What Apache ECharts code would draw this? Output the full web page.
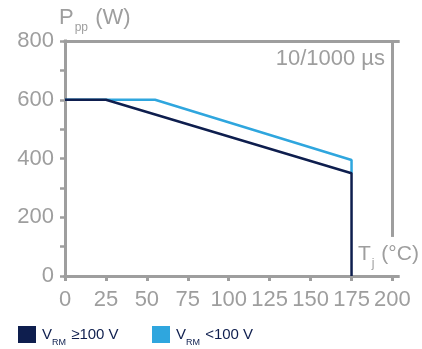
<!DOCTYPE html>
<html><head><meta charset="utf-8">
<script src="https://cdn.jsdelivr.net/npm/echarts@6/dist/echarts.min.js"></script>
<style>html,body{margin:0;padding:0;background:#fff}#c{width:422px;height:349px}</style>
</head><body><div id="c"></div>
<script>
// ---- data ----
const xTickValues = [0, 25, 50, 75, 100, 125, 150, 175, 200];
const yTickValues = [0, 100, 200, 300, 400, 500, 600, 700, 800];
const yLabelValues = [0, 200, 400, 600, 800];
const seriesNames = ['VRM ≥100 V', 'VRM <100 V'];
const tempHigh = [0, 25, 175, 175];
const powerHigh = [600, 600, 350, 0];
const tempLow = [0, 55, 175, 175];
const powerLow = [600, 600, 395, 350];
const frameRight = [[200, 800], [200, 133]];

// ---- style ----
const GREY = '#9e9e9e';
const NAVY = '#0e1e4e';
const BLUE = '#2fa6de';
const FONT = "'Liberation Sans', Arial, sans-serif";

const chart = echarts.init(document.getElementById('c'), null, {renderer: 'canvas'});

const richTitle = {
  a: {fontSize: 22, color: GREY, fontFamily: FONT, fontWeight: 'normal', lineHeight: 26},
  b: {fontSize: 12, color: GREY, fontFamily: FONT, fontWeight: 'normal', lineHeight: 14, verticalAlign: 'bottom', padding: [0, 1, -3, 1]}
};
const richTitleSmall = {
  a: {fontSize: 21, color: GREY, fontFamily: FONT, fontWeight: 'normal', lineHeight: 26},
  b: {fontSize: 12, color: GREY, fontFamily: FONT, fontWeight: 'normal', lineHeight: 14, verticalAlign: 'bottom', padding: [0, 1, -3, 1]}
};
const richLegend = {
  v: {fontSize: 15, color: NAVY, fontFamily: FONT, lineHeight: 18},
  s: {fontSize: 9, color: NAVY, fontFamily: FONT, lineHeight: 10, verticalAlign: 'bottom', padding: [0, 1, -4, 0]}
};
function legendFmt(name) {
  const rest = name.slice(3);
  return '{v|V}{s|RM}{v|' + rest + '}';
}

const toPairs = (xs, ys) => xs.map((x, i) => [x, ys[i]]);

chart.setOption({
  animation: false,
  grid: {left: 65, right: 23.8, top: 41, bottom: 73},
  title: [
    {text: '{a|P}{b|pp}{a| (W)}', left: 59, top: 5, padding: 0, textStyle: {fontWeight: 'normal', rich: richTitle}},
    {text: '10/1000 µs', right: 37, top: 46, padding: 0,
     textStyle: {fontSize: 22, color: GREY, fontFamily: FONT, fontWeight: 'normal', lineHeight: 26}},
    {text: '{a|T}{b|j}{a| (°C)}', left: 358, top: 241, padding: 0, textStyle: {fontWeight: 'normal', rich: richTitleSmall}}
  ],
  legend: [
    {data: [seriesNames[0]], left: 18, top: 326, padding: 0, itemWidth: 18, itemHeight: 17, icon: 'rect',
     itemStyle: {borderWidth: 0}, formatter: legendFmt, textStyle: {rich: richLegend, padding: [0, 0, 0, 1]}},
    {data: [seriesNames[1]], left: 152, top: 326, padding: 0, itemWidth: 18, itemHeight: 17, icon: 'rect',
     itemStyle: {borderWidth: 0}, formatter: legendFmt, textStyle: {rich: richLegend, padding: [0, 0, 0, 1]}}
  ],
  xAxis: [
    {type: 'value', position: 'bottom', min: 0, max: 203.5,
     axisLine: {show: true, onZero: false, lineStyle: {color: GREY, width: 3, cap: 'square'}},
     axisTick: {show: true, length: 5, customValues: xTickValues, lineStyle: {color: GREY, width: 3}},
     axisLabel: {customValues: xTickValues, fontSize: 22, color: GREY, fontFamily: FONT, margin: 13},
     splitLine: {show: false}},
    {type: 'value', position: 'top', min: 0, max: 203.5,
     axisLine: {show: true, onZero: false, lineStyle: {color: GREY, width: 3, cap: 'square'}},
     axisTick: {show: false}, axisLabel: {show: false}, splitLine: {show: false}}
  ],
  yAxis: {
    type: 'value', min: 0, max: 800, interval: 100,
    axisLine: {show: true, onZero: false, lineStyle: {color: GREY, width: 3, cap: 'square'}},
    axisTick: {show: true, length: 5, customValues: yTickValues, lineStyle: {color: GREY, width: 2.5}},
    axisLabel: {customValues: yLabelValues, fontSize: 22, color: GREY, fontFamily: FONT, margin: 11},
    splitLine: {show: false}
  },
  series: [
    {name: seriesNames[1], type: 'line', data: toPairs(tempLow, powerLow), showSymbol: false, symbol: 'none',
     lineStyle: {color: BLUE, width: 2.5}, itemStyle: {color: BLUE}},
    {name: seriesNames[0], type: 'line', data: toPairs(tempHigh, powerHigh), showSymbol: false, symbol: 'none',
     lineStyle: {color: NAVY, width: 2.5}, itemStyle: {color: NAVY},
     markLine: {silent: true, symbol: ['none', 'none'], label: {show: false},
       lineStyle: {color: GREY, width: 3, type: 'solid'},
       data: [[{coord: frameRight[0]}, {coord: frameRight[1]}]]}}
  ]
});
</script></body></html>
